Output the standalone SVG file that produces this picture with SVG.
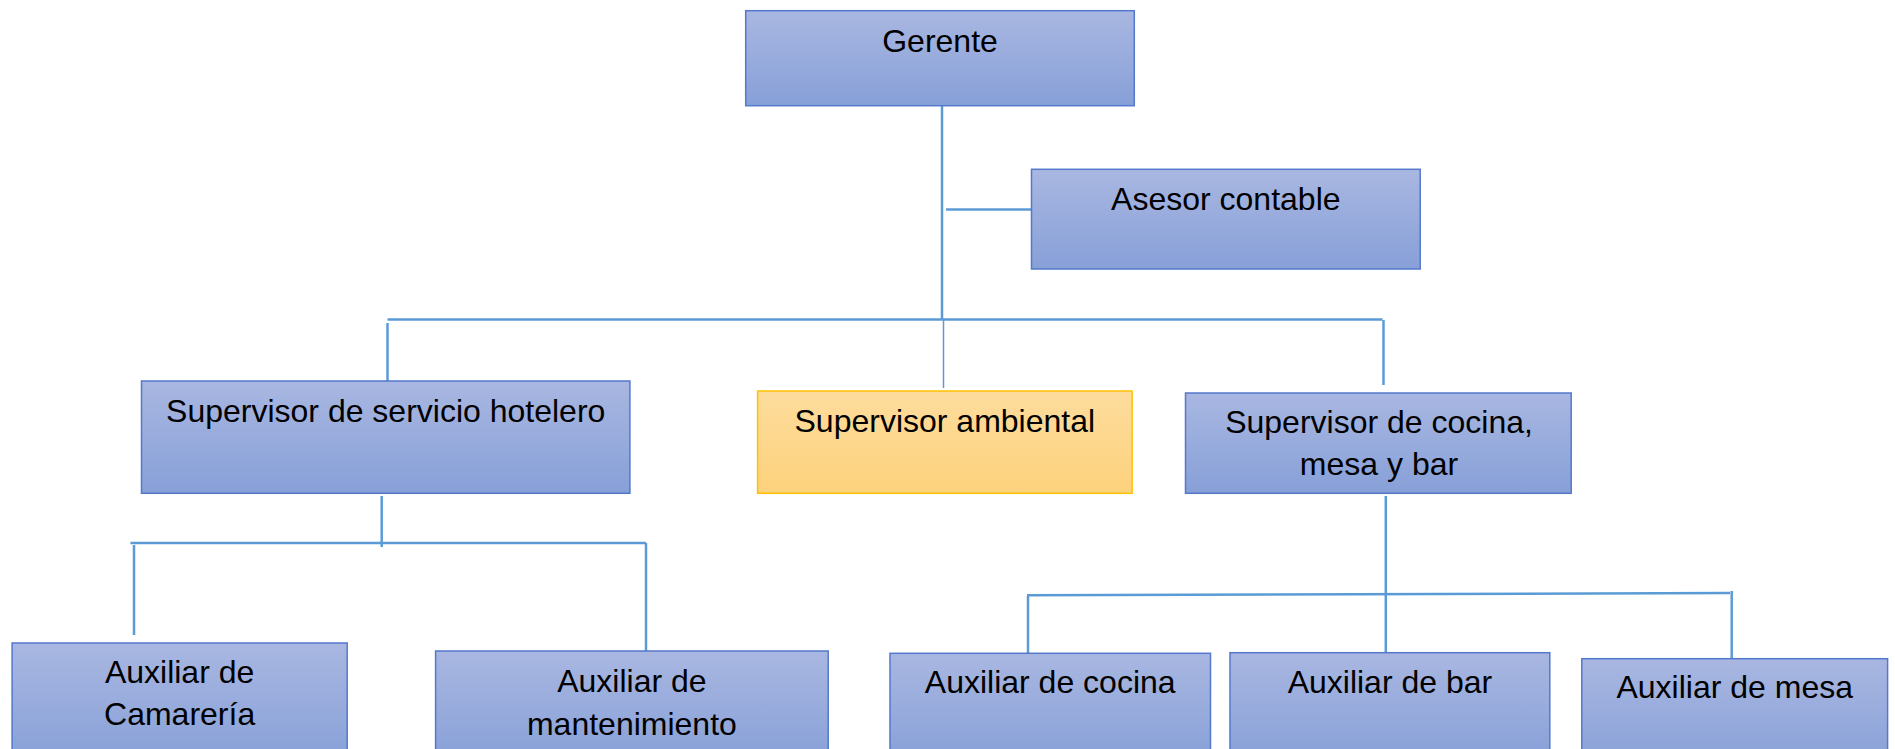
<svg xmlns="http://www.w3.org/2000/svg" width="1895" height="749" viewBox="0 0 1895 749">
<defs>
<linearGradient id="gBlue" x1="0" y1="0" x2="0" y2="1">
<stop offset="0" stop-color="#A9B7E1"/>
<stop offset="1" stop-color="#87A0D8"/>
</linearGradient>
<linearGradient id="gOrange" x1="0" y1="0" x2="0" y2="1">
<stop offset="0" stop-color="#FDDC9C"/>
<stop offset="1" stop-color="#FDD27D"/>
</linearGradient>
<style>
.box{fill:url(#gBlue);stroke:#5378CC;stroke-width:1.5}
.obox{fill:url(#gOrange);stroke:#FFC000;stroke-width:1.5}
.t{font-family:"Liberation Sans",Arial,sans-serif;font-size:32px;fill:#000;text-anchor:middle}
.c{stroke:#5B9BD5;stroke-width:2.5;fill:none}
.ct{stroke:#5B9BD5;stroke-width:1.5;fill:none}
</style>
</defs>
<rect width="1895" height="749" fill="#FFFFFF"/>
<g id="connectors">
<line class="c" x1="942" y1="106" x2="942" y2="320"/>
<line class="ct" x1="943.5" y1="320" x2="943.5" y2="388"/>
<line class="c" x1="946" y1="209.5" x2="1031.5" y2="209.5"/>
<line class="c" x1="387.5" y1="319.5" x2="1382.5" y2="319.5"/>
<line class="c" x1="387.5" y1="323" x2="387.5" y2="381"/>
<line class="c" x1="1383.5" y1="320" x2="1383.5" y2="385"/>
<line class="c" x1="381.7" y1="496" x2="381.7" y2="547"/>
<line class="c" x1="130.4" y1="543" x2="646" y2="543"/>
<line class="c" x1="134" y1="545" x2="134" y2="635"/>
<line class="c" x1="646" y1="543" x2="646" y2="651"/>
<line class="c" x1="1385.8" y1="496" x2="1385.8" y2="653"/>
<line class="c" x1="1027" y1="595.3" x2="1730" y2="593"/>
<line class="c" x1="1028" y1="596" x2="1028" y2="653"/>
<line class="c" x1="1731.7" y1="591" x2="1731.7" y2="658.7"/>
</g>
<g id="gerente">
<rect class="box" x="745.7" y="10.7" width="388.6" height="95"/>
<text class="t" x="940" y="51.7">Gerente</text>
</g>
<g id="asesor-contable">
<rect class="box" x="1031.5" y="169.3" width="388.7" height="99.7"/>
<text class="t" x="1225.8" y="210">Asesor contable</text>
</g>
<g id="supervisor-servicio-hotelero">
<rect class="box" x="141.5" y="381" width="488.4" height="112.3"/>
<text class="t" x="385.7" y="421.7">Supervisor de servicio hotelero</text>
</g>
<g id="supervisor-ambiental">
<rect class="obox" x="757.6" y="391" width="374.5" height="102.3"/>
<text class="t" x="944.8" y="431.7">Supervisor ambiental</text>
</g>
<g id="supervisor-cocina">
<rect class="box" x="1185.5" y="393" width="385.7" height="100.3"/>
<text class="t" x="1379" y="433.3">Supervisor de cocina,</text>
<text class="t" x="1379" y="475">mesa y bar</text>
</g>
<g id="auxiliar-camareria">
<rect class="box" x="12.1" y="643" width="335.1" height="120"/>
<text class="t" x="179.6" y="683.3">Auxiliar de</text>
<text class="t" x="179.6" y="725">Camarería</text>
</g>
<g id="auxiliar-mantenimiento">
<rect class="box" x="435.6" y="651" width="392.6" height="112"/>
<text class="t" x="631.9" y="691.7">Auxiliar de</text>
<text class="t" x="631.9" y="735">mantenimiento</text>
</g>
<g id="auxiliar-cocina">
<rect class="box" x="890" y="653.3" width="320.5" height="110"/>
<text class="t" x="1050.2" y="692.7">Auxiliar de cocina</text>
</g>
<g id="auxiliar-bar">
<rect class="box" x="1230" y="652.7" width="319.8" height="110"/>
<text class="t" x="1389.9" y="692.7">Auxiliar de bar</text>
</g>
<g id="auxiliar-mesa">
<rect class="box" x="1581.8" y="658.7" width="305.8" height="110"/>
<text class="t" x="1734.7" y="698.3">Auxiliar de mesa</text>
</g>
</svg>
